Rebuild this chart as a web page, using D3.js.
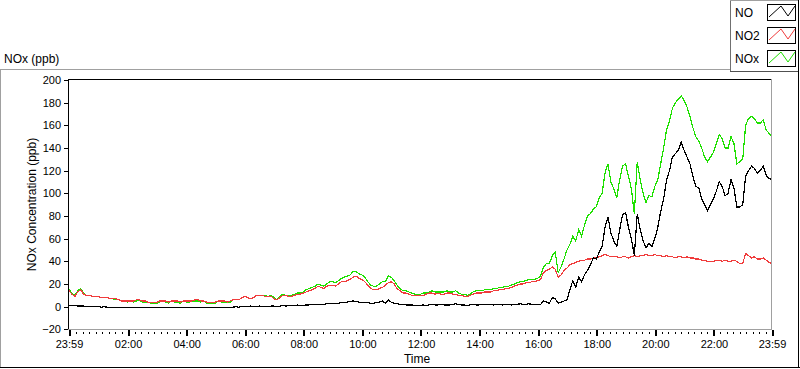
<!DOCTYPE html>
<html>
<head>
<meta charset="utf-8">
<script src="https://cdn.jsdelivr.net/npm/d3@7"></script>
<style>
  html, body { margin: 0; padding: 0; background: #fff; }
  svg { display: block; font-family: "Liberation Sans", Arial, sans-serif; }
</style>
</head>
<body>
<svg id="chart" width="800" height="369"></svg>
<script>
// ---------------- DATA (6-minute samples from 23:59 to 23:59) ----------------
const seriesNames = ["NO", "NO2", "NOx"];
const yTickValues = [-20, 0, 20, 40, 60, 80, 100, 120, 140, 160, 180, 200];
const xTickLabels = ["23:59", "02:00", "04:00", "06:00", "08:00", "10:00", "12:00",
                     "14:00", "16:00", "18:00", "20:00", "22:00", "23:59"];
const sampleStepMinutes = 6;

const NO = [
  1,1,1,0.5,0.5,0.5,0,0,0,0,
  0,-0.5,0,-0.5,-1,-0.5,-1,-0.5,-1,-1,
  -1,-0.5,-1,-1,-0.5,-1,-1,-0.5,-1,-1,
  -1,-1,-0.5,-1,-1,-0.5,-1,-1,-1,-0.5,
  -1,-1,-0.5,-1,-1,-1,-0.5,-1,-1,-1,
  -1,-0.5,-1,-1,-0.5,-1,-0.5,0,-0.5,0,
  0,0,0.5,0,0,0.5,0,0.5,0,0.5,
  0.5,0,0.5,1,0.5,1,1,1,1.5,1,
  1,1.5,1.5,2,2,1.5,2,2,2.5,2.5,
  2.5,3,3,3.5,4,4,4.5,5,4.5,4,
  4,3.5,3.5,3,3,3.5,4,5,3,6,
  4,3,2.5,2,2,1.5,1.5,1.5,1,1,
  1,1.5,1,1.5,2,1.5,1.5,2,1.5,1.5,
  1.5,2,2.5,2,1.5,1.5,1,1.5,2,1.5,
  1.5,2,1.5,2,2,1.5,2,2,1.5,2,
  2,1.5,2,2,2.5,2,2,2.5,2,2,
  2,2,5,4,3,8,7,3,4,5,
  6,15,23,17,26,22,28,32,37,43,
  42,48,53,70,79,65,58,53,68,81,
  83,70,60,45,82,68,58,52,56,53,
  60,70,84,95,112,120,132,135,138,145,
  138,132,126,115,106,105,95,90,85,90,
  95,102,110,106,98,100,112,105,88,88,
  90,115,120,124,122,118,120,124,116,113,
  112
];

const NO2 = [
  14,11,9,13,15,11,10,10,9,9,
  9,8,8,8,7,7,7,6,5,5,
  5,5,5,6,6,5,5,4,4,4,
  4,5,5,5,4,5,5,5,4,5,
  5,5,5,6,6,5,5,4,4,4,
  4,5,5,5,4,5,6,6,6,8,
  9,8,7,8,10,10,10,9,9,9,
  7,6,8,10,10,9,9,10,11,11,
  12,13,14,15,16,18,17,16,18,19,
  19,18,20,22,22,23,24,26,27,25,
  24,22,19,16,15,15,16,17,19,21,
  22,20,16,14,12,12,11,10,10,10,
  10,10,11,12,12,11,12,11,11,12,
  12,11,11,10,10,9,9,10,11,12,
  12,12,13,13,13,14,14,15,15,16,
  16,17,18,19,20,20,21,21,22,22,
  23,24,30,32,33,35,33,26,28,32,
  34,37,38,39,40,41,41,42,42,43,
  43,44,45,46,45,44,44,44,43,44,
  44,43,44,45,44,45,45,46,45,45,
  46,45,45,44,45,44,44,43,44,44,
  43,44,43,43,42,42,41,41,40,40,
  40,41,41,40,41,40,40,41,40,38,
  38,47,45,43,44,42,42,43,41,39,
  38
];

const NOx = [
  15,12,10,14,16,12,10,10,9,9,
  9,8,8,8,7,7,6,6,5,5,
  4,5,4,5,6,4,4,4,3,3,
  3,4,5,4,3,5,4,4,3,5,
  4,4,5,5,5,4,5,3,3,3,
  3,5,4,4,4,4,6,6,6,8,
  9,8,7,8,10,10,10,10,9,10,
  8,6,9,11,10,10,10,11,12,12,
  13,15,16,17,18,20,19,18,20,22,
  22,21,23,25,26,27,28,31,31,29,
  28,26,22,19,18,18,20,22,22,27,
  26,23,19,16,14,14,13,12,11,11,
  11,12,12,13,14,13,13,13,13,14,
  13,13,14,12,11,11,10,11,13,14,
  14,14,15,15,15,16,16,17,17,18,
  18,19,20,21,22,22,23,24,24,24,
  25,27,35,38,38,45,48,30,35,42,
  50,55,62,58,68,62,72,80,82,86,
  88,96,100,118,126,110,104,96,112,124,
  126,115,104,82,128,112,100,92,98,97,
  106,112,126,140,156,164,175,180,183,186,
  182,176,168,158,150,146,140,132,128,132,
  136,144,152,148,140,140,150,144,126,128,
  130,160,166,168,166,162,162,165,156,153,
  150
];

const seriesColors = { NO: "#000000", NO2: "#f03c3c", NOx: "#1ee000" };

// ---------------- SCALES ----------------
const startTime = new Date(2020, 0, 1, 23, 59);
const endTime = new Date(2020, 0, 2, 23, 59);
const times = NO.map((_, i) => new Date(startTime.getTime() + i * sampleStepMinutes * 60000));

const plot = { left: 68.5, right: 771.5, top: 79.5, bottom: 329.5 };

const x = d3.scaleTime().domain([startTime, endTime]).range([69, 772]);
const y = d3.scaleLinear().domain([-20, 200]).range([329.3, 80]);

const svg = d3.select("#chart");
svg.append("rect").attr("width", 800).attr("height", 369).attr("fill", "#fff");

// ---------------- OUTER FRAME ----------------
const frame = svg.append("g").attr("shape-rendering", "crispEdges");
frame.append("line").attr("x1", 0).attr("x2", 730).attr("y1", 69.5).attr("y2", 69.5).attr("stroke", "#a0a0a0");
frame.append("line").attr("x1", 0.5).attr("x2", 0.5).attr("y1", 69).attr("y2", 368).attr("stroke", "#a0a0a0");
frame.append("line").attr("x1", 0).attr("x2", 800).attr("y1", 367.5).attr("y2", 367.5).attr("stroke", "#000");
frame.append("line").attr("x1", 798.5).attr("x2", 798.5).attr("y1", 71).attr("y2", 368).attr("stroke", "#000");

// ---------------- PLOT AREA BORDER ----------------
frame.append("line").attr("x1", plot.left).attr("x2", plot.left).attr("y1", 79).attr("y2", 330).attr("stroke", "#000");
frame.append("line").attr("x1", 68).attr("x2", 772).attr("y1", plot.top).attr("y2", plot.top).attr("stroke", "#000");
frame.append("line").attr("x1", plot.right).attr("x2", plot.right).attr("y1", 79).attr("y2", 330).attr("stroke", "#a0a0a0");
frame.append("line").attr("x1", 68).attr("x2", 772).attr("y1", plot.bottom).attr("y2", plot.bottom).attr("stroke", "#a0a0a0");

// ---------------- Y AXIS ----------------
const yAxis = d3.axisLeft(y).tickValues(yTickValues).tickSize(4).tickPadding(3).tickFormat(d3.format("d"));
const gy = svg.append("g").attr("transform", "translate(68,0)").call(yAxis);
gy.select(".domain").remove();
gy.selectAll(".tick line").attr("stroke", "#000").attr("shape-rendering", "crispEdges");
gy.selectAll(".tick text").attr("font-size", "11px").attr("fill", "#000")
  .attr("font-family", "'Liberation Sans', Arial, sans-serif");

// ---------------- X AXIS ----------------
const xMajor = [startTime];
for (let h = 2; h <= 22; h += 2) xMajor.push(new Date(2020, 0, 2, h, 0));
xMajor.push(endTime);
const xAxis = d3.axisBottom(x).tickValues(xMajor).tickSize(6).tickPadding(4)
  .tickFormat((d, i) => xTickLabels[i]);
const gx = svg.append("g").attr("transform", "translate(0,330)").call(xAxis);
gx.select(".domain").remove();
gx.selectAll(".tick line").attr("stroke", "#000").attr("stroke-width", 2).attr("shape-rendering", "crispEdges");
gx.selectAll(".tick text").attr("font-size", "11px").attr("fill", "#000")
  .attr("font-family", "'Liberation Sans', Arial, sans-serif");

// minor ticks: 9 subdivisions per 2 hours, starting 00:00
const xMinor = [];
const minorStart = new Date(2020, 0, 2, 0, 0).getTime();
for (let k = 0; k < 12 * 9; k++) {
  if (k % 9 === 0) continue;
  xMinor.push(new Date(minorStart + k * (120 / 9) * 60000));
}
const gxm = svg.append("g").attr("transform", "translate(0,330)")
  .call(d3.axisBottom(x).tickValues(xMinor).tickSize(4).tickFormat(""));
gxm.select(".domain").remove();
gxm.selectAll(".tick line").attr("stroke", "#000").attr("shape-rendering", "crispEdges")
  .attr("y1", 2);

// ---------------- AXIS TITLES ----------------
svg.append("text").attr("x", 4).attr("y", 63).attr("font-size", "12px").attr("fill", "#000").text("NOx (ppb)");
svg.append("text").attr("transform", "translate(36,204.5) rotate(-90)").attr("text-anchor", "middle")
  .attr("font-size", "12px").attr("fill", "#000").text("NOx Concentration (ppb)");
svg.append("text").attr("x", 417).attr("y", 363).attr("text-anchor", "middle")
  .attr("font-size", "12px").attr("fill", "#000").text("Time");

// ---------------- LINES ----------------
const dataBy = { NO: NO, NO2: NO2, NOx: NOx };
const line = d3.line().x((d, i) => x(times[i])).y(d => y(d));
svg.append("defs").append("clipPath").attr("id", "plotclip")
  .append("rect").attr("x", 69).attr("y", 80).attr("width", 702).attr("height", 249);
const linesG = svg.append("g").attr("clip-path", "url(#plotclip)");
["NOx", "NO2", "NO"].forEach(name => {
  linesG.append("path").datum(dataBy[name])
    .attr("d", line)
    .attr("fill", "none")
    .attr("stroke", seriesColors[name])
    .attr("stroke-width", 1.2)
    .attr("shape-rendering", "crispEdges")
    .attr("stroke-linejoin", "miter");
});

// ---------------- LEGEND ----------------
const lg = svg.append("g").attr("shape-rendering", "crispEdges");
lg.append("rect").attr("x", 730).attr("y", 0).attr("width", 69).attr("height", 72).attr("fill", "#fff");
lg.append("line").attr("x1", 730.5).attr("x2", 730.5).attr("y1", 0).attr("y2", 72).attr("stroke", "#707070");
lg.append("line").attr("x1", 730).attr("x2", 799).attr("y1", 71.5).attr("y2", 71.5).attr("stroke", "#505050");
lg.append("line").attr("x1", 730).attr("x2", 799).attr("y1", 0.5).attr("y2", 0.5).attr("stroke", "#a0a0a0");
lg.append("line").attr("x1", 798.5).attr("x2", 798.5).attr("y1", 0).attr("y2", 72).attr("stroke", "#000");

const zig = [[2, 13], [14, 2], [21, 12], [28, 2]];
seriesNames.forEach((name, i) => {
  const by = 4 + i * 23;
  svg.append("text").attr("x", 735).attr("y", by + 13).attr("font-size", "12px").attr("fill", "#000").text(name);
  lg.append("rect").attr("x", 767.5).attr("y", by + 0.5).attr("width", 28).attr("height", 16)
    .attr("fill", "#fff").attr("stroke", "#000");
  svg.append("path")
    .attr("d", d3.line()(zig.map(p => [767 + p[0], by + p[1]])))
    .attr("fill", "none").attr("stroke", seriesColors[name]).attr("stroke-width", 1);
});
</script>
</body>
</html>
